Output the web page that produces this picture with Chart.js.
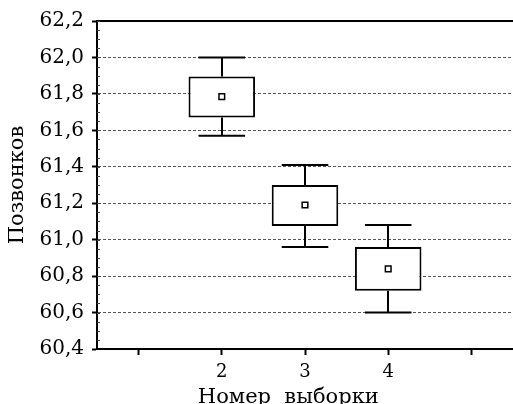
<!DOCTYPE html>
<html>
<head>
<meta charset="utf-8">
<script src="https://cdn.jsdelivr.net/npm/chart.js@4/dist/chart.umd.min.js"></script>
<style>
    html, body { margin: 0; padding: 0; background: #fff; }
    canvas { display: block; }
</style>
</head>
<body>
<canvas id="myChart" width="513" height="404"></canvas>
<script>
// sample numbers
const samples = [2, 3, 4];
// box: lower / upper quartile
const boxLow = [61.67, 61.075, 60.72];
const boxHigh = [61.895, 61.30, 60.96];
// whiskers
const whiskerLow = [61.57, 60.96, 60.60];
const whiskerHigh = [62.00, 61.41, 61.08];
// mean markers
const means = [61.785, 61.19, 60.84];

const xTicks = [1, 2, 3, 4, 5];
const xLabels = ['', '2', '3', '4', ''];
const yTicks = [60.4, 60.6, 60.8, 61.0, 61.2, 61.4, 61.6, 61.8, 62.0, 62.2];

const serif = 'DejaVu Serif';

// whiskers, top frame line and small inner ticks on y axis
const boxExtras = {
    id: 'boxExtras',
    afterDatasetsDraw(chart) {
        const { ctx, chartArea } = chart;
        const x = chart.scales.x;
        const y = chart.scales.y;
        ctx.save();
        ctx.strokeStyle = '#000';
        ctx.lineWidth = 2;
        samples.forEach((s, i) => {
            const cx = Math.round(x.getPixelForValue(s));
            const c1 = x.getPixelForValue(s - 0.28);
            const c2 = x.getPixelForValue(s + 0.28);
            ctx.beginPath();
            ctx.moveTo(cx, y.getPixelForValue(boxHigh[i]));
            ctx.lineTo(cx, y.getPixelForValue(whiskerHigh[i]));
            ctx.moveTo(c1, y.getPixelForValue(whiskerHigh[i]));
            ctx.lineTo(c2, y.getPixelForValue(whiskerHigh[i]));
            ctx.moveTo(cx, y.getPixelForValue(boxLow[i]));
            ctx.lineTo(cx, y.getPixelForValue(whiskerLow[i]));
            ctx.moveTo(c1, y.getPixelForValue(whiskerLow[i]));
            ctx.lineTo(c2, y.getPixelForValue(whiskerLow[i]));
            ctx.stroke();
        });

        // top frame
        ctx.beginPath();
        ctx.moveTo(chartArea.left - 1, chartArea.top);
        ctx.lineTo(chartArea.right, chartArea.top);
        ctx.stroke();

        // minor ticks inside
        ctx.lineWidth = 1;
        ctx.strokeStyle = '#444';
        ctx.beginPath();
        for (let v = 60.45; v < 62.2; v += 0.05) {
            const py = Math.round(y.getPixelForValue(v)) + 0.5;
            ctx.moveTo(chartArea.left, py);
            ctx.lineTo(chartArea.left + 3, py);
        }
        ctx.stroke();
        ctx.restore();
    }
};

const ctx = document.querySelector('#myChart').getContext('2d');

const myChart = new Chart(ctx, {
    type: 'bar',
    data: {
        datasets: [{
            type: 'scatter',
            data: samples.map((s, i) => ({ x: s, y: means[i] })),
            pointStyle: 'rect',
            pointRadius: 4,
            backgroundColor: '#fff',
            borderColor: '#000',
            borderWidth: 1.5,
            order: 0
        }, {
            data: samples.map((s, i) => ({ x: s, y: [boxLow[i], boxHigh[i]] })),
            backgroundColor: '#fff',
            borderColor: '#000',
            borderWidth: 2,
            borderSkipped: false,
            categoryPercentage: 0.8,
            barPercentage: 1,
            order: 1
        }]
    },
    options: {
        responsive: false,
        animation: false,
        layout: {
            autoPadding: false,
            padding: { top: 21, right: 0, left: 0, bottom: 0 }
        },
        plugins: {
            legend: { display: false },
            tooltip: { enabled: false }
        },
        scales: {
            x: {
                type: 'linear',
                offset: false,
                min: 0.5,
                max: 5.5,
                afterBuildTicks: scale => { scale.ticks = xTicks.map(v => ({ value: v })); },
                afterFit: scale => { scale.height = 55; },
                ticks: {
                    color: '#000',
                    font: { family: serif, size: 18 },
                    padding: 7,
                    maxRotation: 0,
                    autoSkip: false,
                    callback: (value, index) => xLabels[index]
                },
                grid: {
                    offset: false,
                    drawOnChartArea: false,
                    tickLength: 6,
                    tickColor: '#000',
                    tickWidth: 2
                },
                border: { color: '#000', width: 2 },
                title: {
                    display: true,
                    text: 'Номер  выборки     ',
                    color: '#000',
                    font: { family: serif, size: 21 },
                    padding: { top: 0, bottom: -6 }
                }
            },
            y: {
                min: 60.4,
                max: 62.2,
                afterBuildTicks: scale => { scale.ticks = yTicks.map(v => ({ value: v })); },
                afterFit: scale => { scale.width = 97; },
                ticks: {
                    color: '#000',
                    font: { family: serif, size: 20 },
                    padding: 8,
                    callback: value => value.toFixed(1).replace('.', ',')
                },
                grid: {
                    color: c => (c.index === 0 || c.index === yTicks.length - 1) ? 'rgba(0,0,0,0)' : '#555',
                    lineWidth: 1,
                    tickLength: 5,
                    tickColor: '#000',
                    tickWidth: 2
                },
                border: { color: '#000', width: 2, dash: [3, 2] },
                title: {
                    display: true,
                    text: 'Позвонков',
                    color: '#000',
                    font: { family: serif, size: 21 },
                    padding: { top: 5, bottom: 0 }
                }
            }
        }
    },
    plugins: [boxExtras]
});
</script>
</body>
</html>
